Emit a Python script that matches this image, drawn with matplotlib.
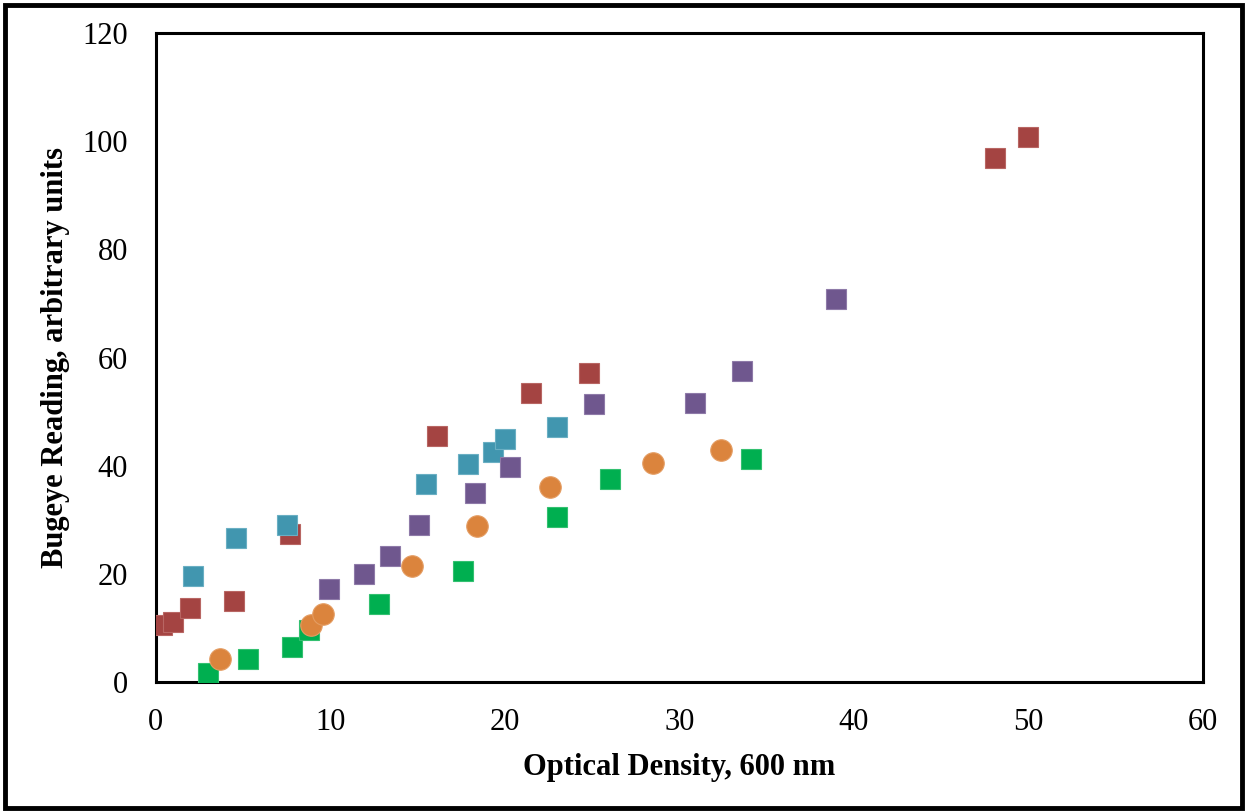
import matplotlib
matplotlib.use("Agg")
import matplotlib.pyplot as plt
from matplotlib.patches import Rectangle

plt.rcParams['font.family'] = ['Liberation Serif', 'DejaVu Serif']

red_x = [0.33, 1.0, 1.95, 4.5, 7.7, 16.1, 21.5, 24.8, 48.1, 50.0]
red_y = [10.5, 11.1, 13.6, 15.0, 27.4, 45.4, 53.4, 57.1, 96.9, 100.7]

teal_x = [2.1, 4.6, 7.5, 15.5, 17.9, 19.3, 20.0, 23.0]
teal_y = [19.6, 26.7, 29.1, 36.7, 40.4, 42.5, 45.0, 47.1]

purple_x = [9.9, 11.9, 13.4, 15.1, 18.3, 20.3, 25.1, 30.9, 33.6, 39.0]
purple_y = [17.2, 20.0, 23.3, 29.0, 35.0, 39.7, 51.4, 51.6, 57.5, 70.8]

orange_x = [3.7, 8.9, 9.6, 14.7, 18.4, 22.6, 28.5, 32.4]
orange_y = [4.2, 10.5, 12.5, 21.4, 28.9, 36.1, 40.5, 42.9]

green_x = [3.0, 5.3, 7.8, 8.8, 12.8, 17.6, 23.0, 26.0, 34.1]
green_y = [1.6, 4.3, 6.4, 9.6, 14.4, 20.5, 30.5, 37.5, 41.2]

x_ticks = [0, 10, 20, 30, 40, 50, 60]
y_ticks = [0, 20, 40, 60, 80, 100, 120]

fig = plt.figure(figsize=(12.47, 8.11), dpi=100)
ax = fig.add_axes([0.125, 0.159, 0.8397, 0.8003])

ms = 14.3
ax.plot(red_x, red_y, 's', color='#A44442', mec='#B86663', mew=0.8, ms=ms, zorder=3)
ax.plot(teal_x, teal_y, 's', color='#4196AF', mec='#6AAFC3', mew=0.8, ms=ms, zorder=3)
ax.plot(purple_x, purple_y, 's', color='#6F578E', mec='#8E7AA8', mew=0.8, ms=ms, zorder=3)
ax.plot(green_x, green_y, 's', color='#00AF50', mec='#33C070', mew=0.8, ms=ms, zorder=3)
ax.plot(orange_x, orange_y, 'o', color='#DB843D', mec='#E49D63', mew=0.8, ms=ms + 1.2, zorder=4)

ax.set_xlim(0, 60)
ax.set_ylim(0, 120)
ax.set_xticks(x_ticks)
ax.set_yticks(y_ticks)
ax.tick_params(length=0, labelsize=22)
ax.tick_params(axis='x', pad=19)
ax.tick_params(axis='y', pad=20)
for s in ax.spines.values():
    s.set_linewidth(2.2)
    s.set_color('black')
ax.set_xlabel('Optical Density, 600 nm', fontsize=22, fontweight='bold', labelpad=11)
ax.set_ylabel('Bugeye Reading, arbitrary units', fontsize=22, fontweight='bold', labelpad=9)

fig.patches.append(Rectangle((0.004, 0.004), 0.992, 0.990, transform=fig.transFigure,
                             fill=False, edgecolor='black', linewidth=3.5))

fig.savefig('out.png', dpi=100)
